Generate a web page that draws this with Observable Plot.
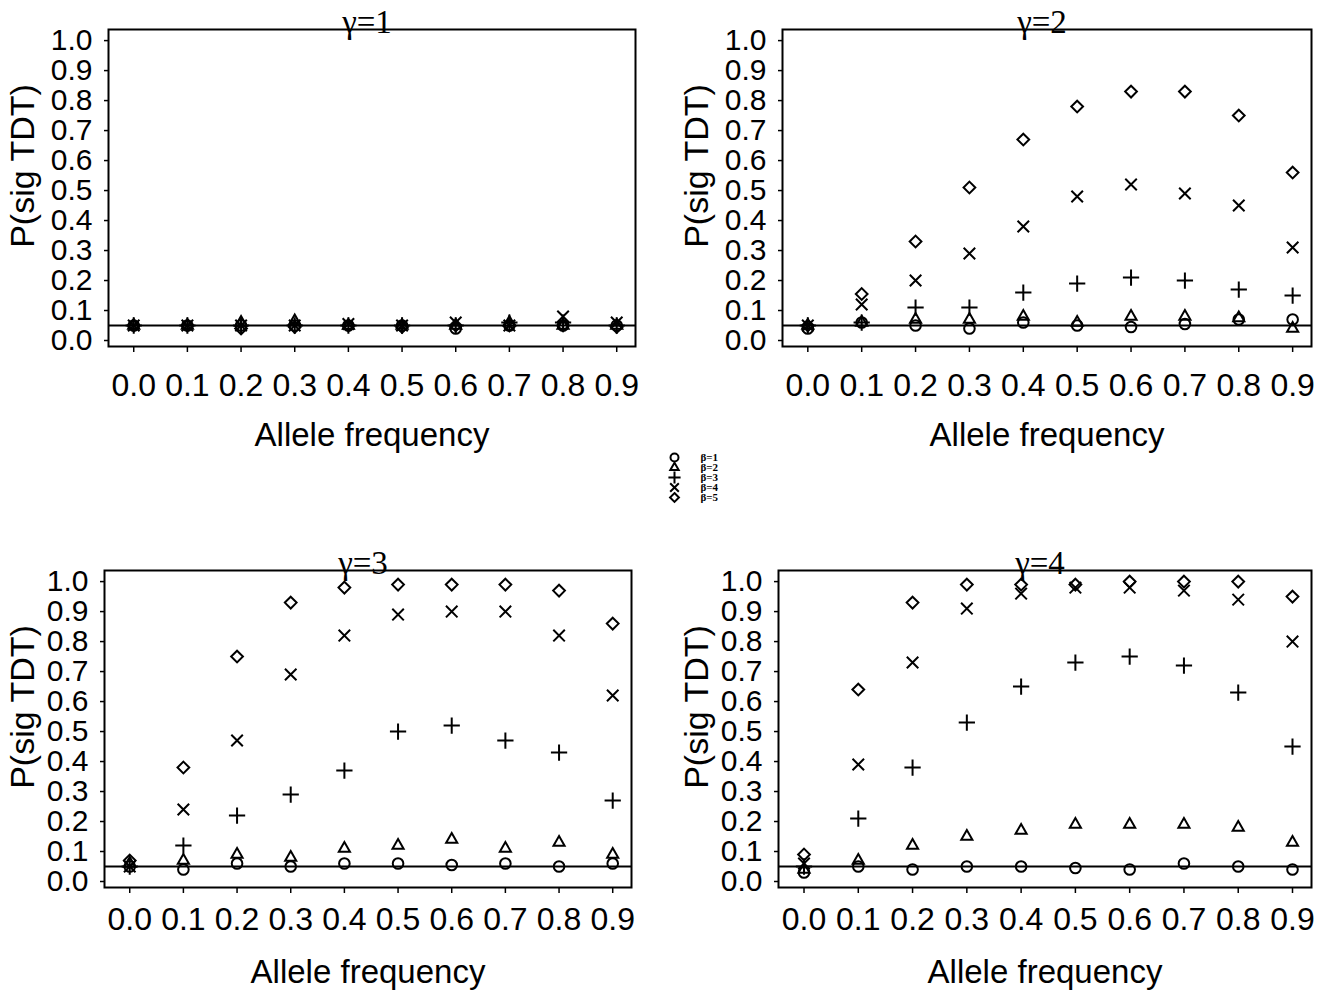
<!DOCTYPE html>
<html>
<head>
<meta charset="utf-8">
<script src="https://cdn.jsdelivr.net/npm/d3@7"></script>
<script src="https://cdn.jsdelivr.net/npm/@observablehq/plot@0.6"></script>
<style>
  html, body { margin: 0; padding: 0; background: #fff; }
  #page { position: relative; width: 1325px; height: 993px; overflow: hidden; background: #fff; }
  .panel { position: absolute; }
</style>
</head>
<body>
<div id="page"></div>
<script>
// ---- data ----
const freqs = [0.0, 0.1, 0.2, 0.3, 0.4, 0.5, 0.6, 0.7, 0.8, 0.9];
const xTicks = [0.0, 0.1, 0.2, 0.3, 0.4, 0.5, 0.6, 0.7, 0.8, 0.9];
const yTicks = [0.0, 0.1, 0.2, 0.3, 0.4, 0.5, 0.6, 0.7, 0.8, 0.9, 1.0];
const betaLabels = ["β=1", "β=2", "β=3", "β=4", "β=5"];
const betaSymbols = ["circle", "triangle2", "plus", "times", "diamond2"];
const gammaTitles = ["γ=1", "γ=2", "γ=3", "γ=4"];
const nominalLevel = 0.05;

// rows: beta=1..5 ; columns: allele frequency 0.0..0.9
const gamma1 = [
  [0.05, 0.05, 0.05, 0.05, 0.05, 0.05, 0.04, 0.05, 0.05, 0.05],
  [0.05, 0.05, 0.06, 0.065, 0.05, 0.05, 0.05, 0.06, 0.05, 0.05],
  [0.05, 0.05, 0.05, 0.05, 0.05, 0.05, 0.05, 0.06, 0.06, 0.05],
  [0.05, 0.05, 0.05, 0.05, 0.055, 0.05, 0.06, 0.05, 0.08, 0.06],
  [0.05, 0.05, 0.04, 0.045, 0.05, 0.045, 0.05, 0.05, 0.05, 0.045]
];
const gamma2 = [
  [0.04, 0.06, 0.05, 0.04, 0.06, 0.05, 0.045, 0.055, 0.07, 0.07],
  [0.05, 0.06, 0.07, 0.07, 0.08, 0.06, 0.08, 0.08, 0.075, 0.04],
  [0.05, 0.06, 0.11, 0.11, 0.16, 0.19, 0.21, 0.20, 0.17, 0.15],
  [0.05, 0.12, 0.20, 0.29, 0.38, 0.48, 0.52, 0.49, 0.45, 0.31],
  [0.05, 0.155, 0.33, 0.51, 0.67, 0.78, 0.83, 0.83, 0.75, 0.56]
];
const gamma3 = [
  [0.05, 0.04, 0.06, 0.05, 0.06, 0.06, 0.055, 0.06, 0.05, 0.06],
  [0.06, 0.07, 0.09, 0.08, 0.11, 0.12, 0.14, 0.11, 0.13, 0.09],
  [0.05, 0.12, 0.22, 0.29, 0.37, 0.50, 0.52, 0.47, 0.43, 0.27],
  [0.05, 0.24, 0.47, 0.69, 0.82, 0.89, 0.90, 0.90, 0.82, 0.62],
  [0.07, 0.38, 0.75, 0.93, 0.98, 0.99, 0.99, 0.99, 0.97, 0.86]
];
const gamma4 = [
  [0.03, 0.05, 0.04, 0.05, 0.05, 0.045, 0.04, 0.06, 0.05, 0.04],
  [0.04, 0.07, 0.12, 0.15, 0.17, 0.19, 0.19, 0.19, 0.18, 0.13],
  [0.05, 0.21, 0.38, 0.53, 0.65, 0.73, 0.75, 0.72, 0.63, 0.45],
  [0.06, 0.39, 0.73, 0.91, 0.96, 0.98, 0.98, 0.97, 0.94, 0.80],
  [0.09, 0.64, 0.93, 0.99, 0.99, 0.99, 1.00, 1.00, 1.00, 0.95]
];
const allGammas = [gamma1, gamma2, gamma3, gamma4];

// ---- layout ----
const panels = [
  {left: 0,   top: 0,   width: 662, height: 496, mL: 108, mR: 27, mT: 29, mB: 150, pad: 21, lab: 89, yLabX: 23},
  {left: 662, top: 0,   width: 663, height: 496, mL: 120, mR: 14, mT: 29, mB: 150, pad: 21, lab: 89, yLabX: 35},
  {left: 0,   top: 496, width: 662, height: 497, mL: 104, mR: 31, mT: 74, mB: 106, pad: 14, lab: 85, yLabX: 23},
  {left: 662, top: 496, width: 663, height: 497, mL: 116, mR: 14, mT: 74, mB: 106, pad: 14, lab: 85, yLabX: 35}
];

const sans = "'Liberation Sans', Arial, Helvetica, sans-serif";
const serif = "'Liberation Serif', 'Times New Roman', serif";
const page = document.getElementById("page");

function tidy(rows) {
  const out = [];
  rows.forEach((vals, b) => vals.forEach((v, i) => out.push({f: freqs[i], p: v, beta: betaLabels[b]})));
  return out;
}

panels.forEach((P, k) => {
  const data = tidy(allGammas[k]);
  const chart = Plot.plot({
    width: P.width,
    height: P.height,
    marginLeft: P.mL, marginRight: P.mR, marginTop: P.mT, marginBottom: P.mB,
    style: {fontFamily: sans, color: "#000", background: "transparent", overflow: "visible"},
    x: {domain: [-0.047, 0.935]},
    y: {domain: [-0.02, 1.037]},
    symbol: {domain: betaLabels, range: betaSymbols},
    marks: [
      Plot.frame({stroke: "#000", strokeWidth: 2}),
      Plot.axisX(xTicks, {tickFormat: d3.format(".1f"), tickSize: 6, tickPadding: P.pad, fontSize: 32, strokeWidth: 1.5, label: null}),
      Plot.axisY(yTicks, {tickFormat: d3.format(".1f"), tickSize: 4, tickPadding: 12, fontSize: 30, strokeWidth: 1.5, label: null}),
      Plot.ruleY([nominalLevel], {stroke: "#000", strokeWidth: 2}),
      Plot.dot(data, {x: "f", y: "p", symbol: "beta", r: 5.3, stroke: "#000", strokeWidth: 2, fill: "none"}),
      Plot.text([gammaTitles[k]], {frameAnchor: "top", lineAnchor: "bottom", dy: 3, dx: -5, fontFamily: serif, fontSize: 33, fill: "#000"}),
      Plot.text(["Allele frequency"], {frameAnchor: "bottom", lineAnchor: "middle", dy: P.lab, fontSize: 33, fill: "#000"}),
      Plot.text(["P(sig TDT)"], {frameAnchor: "left", textAnchor: "middle", lineAnchor: "middle", rotate: -90, dx: P.yLabX - P.mL, dy: -22, fontSize: 34, fill: "#000"})
    ]
  });
  chart.classList.add("panel");
  chart.style.left = P.left + "px";
  chart.style.top = P.top + "px";
  page.appendChild(chart);
});

// ---- legend ----
const legend = Plot.plot({
  width: 90, height: 66,
  marginLeft: 0, marginRight: 0, marginTop: 8, marginBottom: 8,
  style: {background: "transparent", overflow: "visible"},
  y: {type: "point", domain: betaLabels, axis: null},
  symbol: {domain: betaLabels, range: betaSymbols},
  marks: [
    Plot.dot(betaLabels, {y: d => d, symbol: d => d, frameAnchor: "left", dx: 14, r: 4, stroke: "#000", strokeWidth: 2, fill: "none"}),
    Plot.text(betaLabels, {y: d => d, text: d => d, frameAnchor: "left", dx: 40, textAnchor: "start", fontFamily: serif, fontSize: 11, fontWeight: "bold", fill: "#000"})
  ]
});
legend.classList.add("panel");
legend.style.left = "660px";
legend.style.top = "444px";
page.appendChild(legend);
</script>
</body>
</html>
